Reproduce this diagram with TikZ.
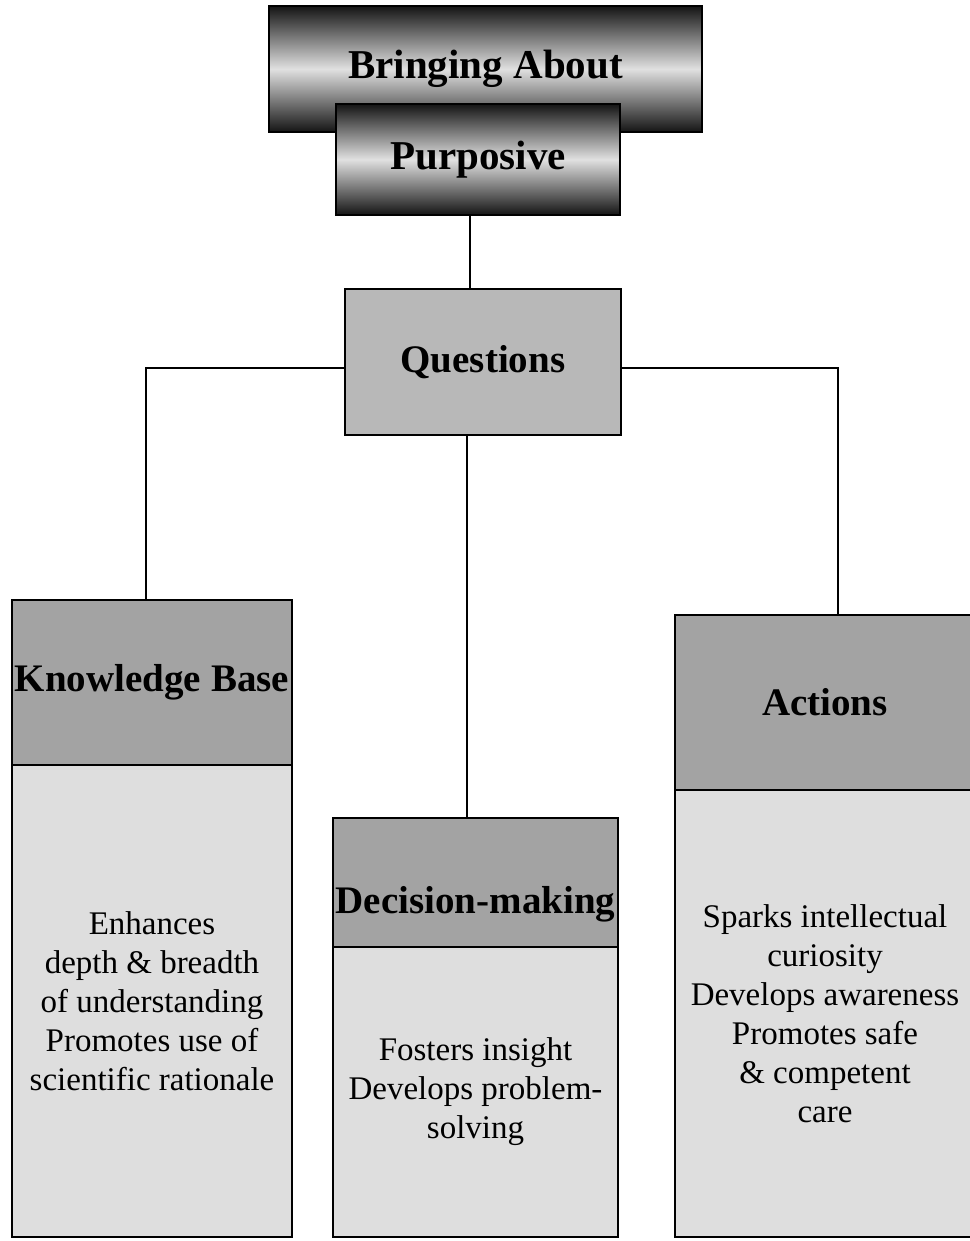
\documentclass[tikz,border=0pt]{standalone}
\usepackage{fontspec}
\setmainfont{Liberation Serif}

\begin{document}
\begin{tikzpicture}[x=1pt,y=-1pt,
	title/.style={draw,line width=2.5pt,inner sep=0pt,top color=black!92,bottom color=black!92,middle color=black!12,font=\bfseries\fontsize{41}{44}\selectfont},
	head/.style={draw,line width=2.5pt,inner sep=0pt,fill=black!36,font=\bfseries\fontsize{39}{42}\selectfont},
	body/.style={draw,line width=2.5pt,inner sep=0pt,fill=black!13,align=center,font=\fontsize{33}{39}\selectfont},
	link/.style={line width=2pt}]
	\useasboundingbox (0,0) rectangle (969,1241);
	% top of the tree
	\node (bring) [title,minimum width=433pt,minimum height=126pt] at (485.5,69) {Bringing About};
	\node (purp) [title,minimum width=284pt,minimum height=111pt] at (478,159.5) {Purposive};
	\node (ques) [head,fill=black!28,minimum width=276pt,minimum height=146pt] at (483,362) {Questions};
	% the three branches
	\node (kb) [head,minimum width=280pt,minimum height=165pt] at (152,682.5) {Knowledge Base};
	\node (kbtext) [body,node distance=318.5pt,below of=kb,minimum width=280pt,minimum height=472pt] {Enhances\\depth \& breadth\\of understanding\\Promotes use of\\scientific rationale};
	\node (dm) [head,minimum width=285pt,minimum height=129pt,
		label={[yshift=-22pt,font=\bfseries\fontsize{39}{42}\selectfont]center:Decision-making}] at (475.5,882.5) {};
	\node (dmtext) [body,node distance=209.5pt,below of=dm,minimum width=285pt,minimum height=290pt] {Fosters insight\\Develops problem-\\solving};
	\node (act) [head,minimum width=300pt,minimum height=175pt] at (825,702.5) {Actions};
	\node (acttext) [body,node distance=311pt,below of=act,minimum width=300pt,minimum height=447pt] {Sparks intellectual\\curiosity\\Develops awareness\\Promotes safe\\\& competent\\care};
	% connectors
	\draw[link] ([xshift=-8pt]purp.south) -- ([xshift=-13pt]ques.north);
	\draw[link] ([yshift=-6pt]ques.west) -| ([xshift=-6pt]kb.north);
	\draw[link] ([yshift=-6pt]ques.east) -| ([xshift=13pt]act.north);
	\draw[link] ([xshift=-16pt]ques.south) -- ([xshift=-8.5pt]dm.north);
\end{tikzpicture}
\end{document}
